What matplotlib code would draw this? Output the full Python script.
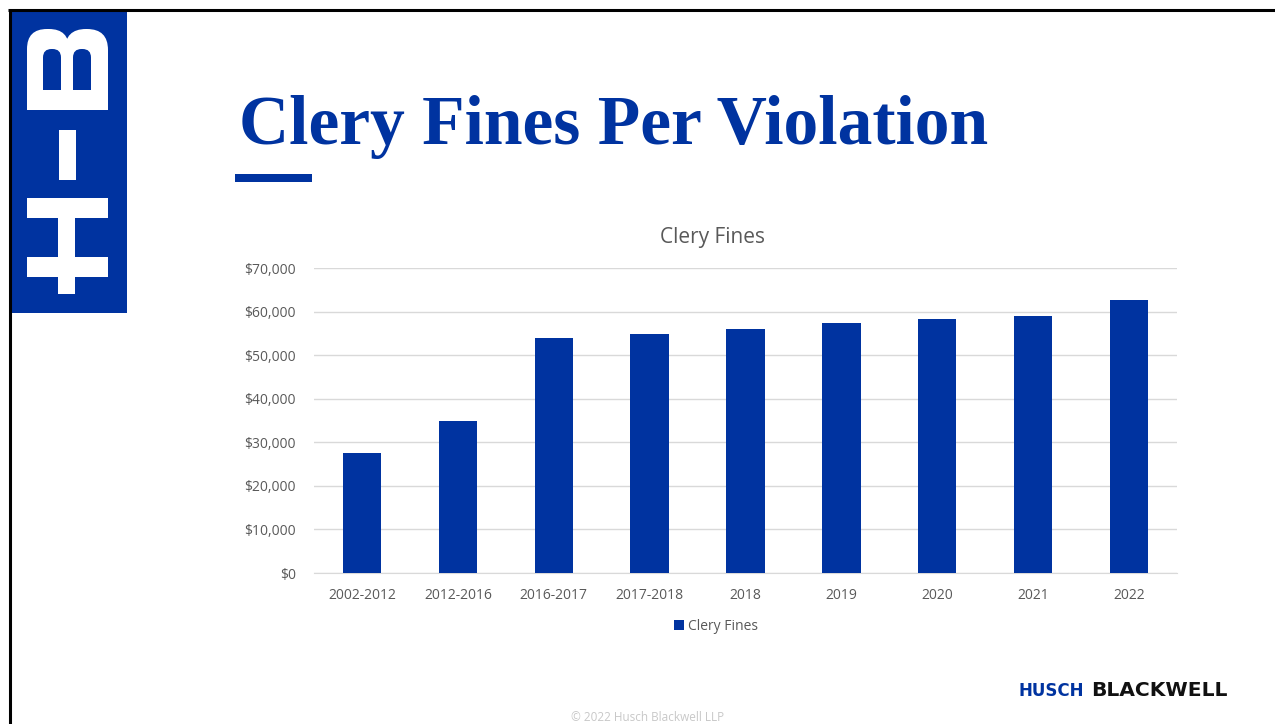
import matplotlib
matplotlib.use("Agg")
import matplotlib.pyplot as plt
from matplotlib.patches import Rectangle, FancyBboxPatch
from matplotlib.ticker import FuncFormatter

categories = ["2002-2012", "2012-2016", "2016-2017", "2017-2018", "2018",
              "2019", "2020", "2021", "2022"]
fines = [27500, 35000, 53907, 54789, 55907, 57317, 58328, 59017, 62689]
y_ticks = [0, 10000, 20000, 30000, 40000, 50000, 60000, 70000]

BLUE = "#0033A0"
GRAY = "#595959"
W, H = 1275, 724

fig = plt.figure(figsize=(W / 100, H / 100), dpi=100)
fig.patch.set_facecolor("white")

# Decoration layer in pixel coordinates
deco = fig.add_axes([0, 0, 1, 1])
deco.set_xlim(0, W)
deco.set_ylim(H, 0)
deco.axis("off")

# frame lines
deco.plot([8, W], [10, 10], color="black", lw=2.2, solid_capstyle="butt")
deco.plot([9.5, 9.5], [10, H], color="black", lw=2.2, solid_capstyle="butt")

# logo block
deco.add_patch(Rectangle((11, 12), 116, 301, facecolor=BLUE, edgecolor="none"))
# B (rotated)
deco.add_patch(FancyBboxPatch((27, 29), 42, 80, boxstyle="round,pad=0,rounding_size=20",
                              facecolor="white", edgecolor="none"))
deco.add_patch(FancyBboxPatch((65, 29), 43, 80, boxstyle="round,pad=0,rounding_size=21",
                              facecolor="white", edgecolor="none"))
deco.add_patch(Rectangle((27, 70), 81, 40, facecolor="white", edgecolor="none"))
for hx in (43, 73):
    deco.add_patch(FancyBboxPatch((hx, 49), 18, 30, boxstyle="round,pad=0,rounding_size=8.5",
                                  facecolor=BLUE, edgecolor="none"))
    deco.add_patch(Rectangle((hx, 64), 18, 26, facecolor=BLUE, edgecolor="none"))
# dash
deco.add_patch(Rectangle((59, 130), 17, 50, facecolor="white", edgecolor="none"))
# H
deco.add_patch(Rectangle((27, 198), 81, 20, facecolor="white", edgecolor="none"))
deco.add_patch(Rectangle((27, 257), 81, 20, facecolor="white", edgecolor="none"))
deco.add_patch(Rectangle((58, 198), 17, 96, facecolor="white", edgecolor="none"))

# title
deco.text(239, 144, "Clery Fines Per Violation", fontsize=50, fontweight="bold",
          family="Liberation Serif", color=BLUE, va="baseline", ha="left")
deco.add_patch(Rectangle((235, 174), 77, 8, facecolor=BLUE, edgecolor="none"))

# chart title
deco.text(713, 237, "Clery Fines", fontsize=15, family="Open Sans", color=GRAY,
          ha="center", va="center")

# footer logo
deco.text(1019, 691, "HUSCH", fontsize=12, fontweight="bold", family="DejaVu Sans",
          color=BLUE, ha="left", va="center")
deco.text(1091, 691, "BLACKWELL", fontsize=14.6, fontweight="bold", family="DejaVu Sans",
          color="#111111", ha="left", va="center")
deco.text(648, 724, "© 2022 Husch Blackwell LLP", fontsize=8.5, family="Open Sans",
          color="#c8c8c8", ha="center", va="bottom")

# chart
ax = fig.add_axes([314 / W, 1 - 573 / H, 863 / W, 305 / H])
x = range(len(categories))
ax.bar(x, fines, width=0.4, color=BLUE, label="Clery Fines", zorder=3)
ax.set_xlim(-0.5, len(categories) - 0.5)
ax.set_ylim(0, 70000)
ax.set_yticks(y_ticks)
ax.yaxis.set_major_formatter(FuncFormatter(lambda v, p: f"${v:,.0f}"))
ax.set_xticks(list(x))
ax.set_xticklabels(categories)
ax.grid(axis="y", color="#d9d9d9", lw=1, zorder=0)
for s in ["top", "right", "left"]:
    ax.spines[s].set_visible(False)
ax.spines["bottom"].set_color("#d9d9d9")
ax.tick_params(length=0, colors=GRAY, labelsize=10)
ax.tick_params(axis="y", pad=13)
ax.tick_params(axis="x", pad=11)
for lbl in ax.get_xticklabels() + ax.get_yticklabels():
    lbl.set_family("Open Sans")
    lbl.set_color(GRAY)
ax.set_facecolor("none")

leg = fig.legend(*ax.get_legend_handles_labels(), loc="center",
                 bbox_to_anchor=(716 / W, 1 - 626 / H), frameon=False,
                 handlelength=0.7, handleheight=0.7, handletextpad=0.3,
                 prop={"family": "Open Sans", "size": 10})
for t in leg.get_texts():
    t.set_color(GRAY)

fig.savefig("out.png", dpi=100, facecolor="white")
